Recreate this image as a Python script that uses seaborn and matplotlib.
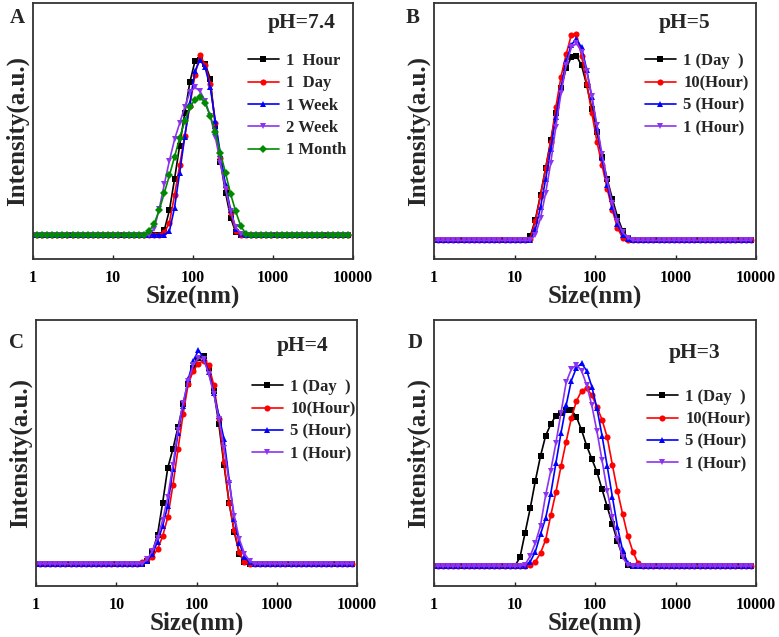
import numpy as np
import pandas as pd
import matplotlib
matplotlib.use('Agg')
import matplotlib.pyplot as plt
import seaborn as sns

sns.set_style('ticks')
plt.rcParams['font.family'] = ['Liberation Serif', 'DejaVu Serif']
plt.rcParams['font.weight'] = 'bold'
plt.rcParams['axes.labelweight'] = 'bold'

# DLS size bins (nm)
sizes = [0.9649, 1.117, 1.294, 1.499, 1.736, 2.010, 2.328, 2.696, 3.122, 3.615,
         4.187, 4.849, 5.615, 6.503, 7.531, 8.721, 10.10, 11.70, 13.54, 15.69,
         18.17, 21.04, 24.36, 28.21, 32.67, 37.84, 43.82, 50.75, 58.77, 68.06,
         78.82, 91.28, 105.7, 122.4, 141.8, 164.2, 190.1, 220.2, 255.0, 295.3,
         342.0, 396.1, 458.7, 531.2, 615.1, 712.4, 825.0, 955.4, 1106, 1281,
         1484, 1718, 1990, 2305, 2669, 3091, 3580, 4145, 4801, 5560,
         6439, 7456, 8635]

# pH = 7.4
a_1hour = [0, 0, 0, 0, 0, 0, 0, 0, 0, 0, 0, 0, 0, 0, 0, 0,
           0, 0, 0, 0, 0, 0, 0, 0, 0, 0, 0.4, 2.0, 4.5, 7.2, 9.8, 12.3,
           14.0, 14.1, 13.8, 12.6, 8.8, 5.9, 3.4, 1.4, 0.2, 0, 0, 0, 0, 0, 0, 0,
           0, 0, 0, 0, 0, 0, 0, 0, 0, 0, 0, 0, 0, 0, 0]
a_1day = [0, 0, 0, 0, 0, 0, 0, 0, 0, 0, 0, 0, 0, 0, 0, 0,
          0, 0, 0, 0, 0, 0, 0, 0, 0, 0, 0.2, 1.0, 3.2, 5.6, 8.0, 10.4,
          12.9, 14.5, 13.7, 12.2, 9.0, 6.2, 3.9, 1.8, 0.3, 0, 0, 0, 0, 0, 0, 0,
          0, 0, 0, 0, 0, 0, 0, 0, 0, 0, 0, 0, 0, 0, 0]
a_1week = [0, 0, 0, 0, 0, 0, 0, 0, 0, 0, 0, 0, 0, 0, 0, 0,
           0, 0, 0, 0, 0, 0, 0, 0, 0, 0, 0, 0.3, 2.2, 5.0, 7.9, 10.6,
           13.2, 14.1, 13.5, 11.9, 9.2, 6.5, 4.0, 2.0, 0.5, 0.1, 0, 0, 0, 0, 0, 0,
           0, 0, 0, 0, 0, 0, 0, 0, 0, 0, 0, 0, 0, 0, 0]
a_2week = [0, 0, 0, 0, 0, 0, 0, 0, 0, 0, 0, 0, 0, 0, 0, 0,
           0, 0, 0, 0, 0, 0, 0, 0, 0.5, 2.1, 4.1, 6.0, 7.7, 9.0, 10.3, 11.5,
           11.9, 11.6, 10.8, 9.6, 7.9, 5.8, 3.7, 1.9, 0.6, 0.1, 0, 0, 0, 0, 0, 0,
           0, 0, 0, 0, 0, 0, 0, 0, 0, 0, 0, 0, 0, 0, 0]
a_1month = [0, 0, 0, 0, 0, 0, 0, 0, 0, 0, 0, 0, 0, 0, 0, 0,
            0, 0, 0, 0, 0, 0, 0, 0.3, 0.9, 2.0, 3.4, 4.8, 6.3, 7.8, 9.2, 10.3,
            10.9, 11.1, 10.6, 9.6, 8.3, 6.6, 5.0, 3.3, 1.9, 0.7, 0.1, 0, 0, 0, 0, 0,
            0, 0, 0, 0, 0, 0, 0, 0, 0, 0, 0, 0, 0, 0, 0]

# pH = 5
b_1day = [0, 0, 0, 0, 0, 0, 0, 0, 0, 0, 0, 0, 0, 0, 0, 0,
          0, 0, 0, 0.3, 1.5, 3.3, 5.2, 7.2, 9.2, 11.0, 12.4, 13.2, 13.3, 12.6, 11.2, 9.5,
          7.8, 6.0, 4.4, 3.0, 1.7, 0.7, 0.2, 0, 0, 0, 0, 0, 0, 0, 0, 0,
          0, 0, 0, 0, 0, 0, 0, 0, 0, 0, 0, 0, 0, 0, 0]
b_10hour = [0, 0, 0, 0, 0, 0, 0, 0, 0, 0, 0, 0, 0, 0, 0, 0,
            0, 0, 0, 0.1, 1.4, 3.2, 5.2, 7.1, 9.6, 11.8, 13.4, 14.8, 14.9, 13.3, 11.3, 9.2,
            7.1, 5.4, 3.7, 2.2, 0.9, 0.2, 0, 0, 0, 0, 0, 0, 0, 0, 0, 0,
            0, 0, 0, 0, 0, 0, 0, 0, 0, 0, 0, 0, 0, 0, 0]
b_5hour = [0, 0, 0, 0, 0, 0, 0, 0, 0, 0, 0, 0, 0, 0, 0, 0,
           0, 0, 0, 0, 0.8, 2.4, 4.4, 6.6, 8.9, 11.0, 12.9, 14.1, 14.5, 13.9, 12.3, 10.3,
           8.1, 5.9, 4.0, 2.4, 1.2, 0.4, 0.1, 0, 0, 0, 0, 0, 0, 0, 0, 0,
           0, 0, 0, 0, 0, 0, 0, 0, 0, 0, 0, 0, 0, 0, 0]
b_1hour = [0, 0, 0, 0, 0, 0, 0, 0, 0, 0, 0, 0, 0, 0, 0, 0,
           0, 0, 0, 0, 0.4, 1.6, 3.4, 5.6, 8.2, 10.6, 12.6, 13.9, 14.2, 13.6, 12.2, 10.4,
           8.3, 6.2, 4.3, 2.7, 1.4, 0.6, 0.2, 0, 0, 0, 0, 0, 0, 0, 0, 0,
           0, 0, 0, 0, 0, 0, 0, 0, 0, 0, 0, 0, 0, 0, 0]

# pH = 4
c_1day = [0, 0, 0, 0, 0, 0, 0, 0, 0, 0, 0, 0, 0, 0, 0, 0,
          0, 0, 0, 0, 0, 0, 0.2, 0.8, 2.0, 4.2, 6.6, 7.9, 9.4, 11.0, 12.4, 13.5,
          14.2, 14.3, 13.5, 11.9, 9.6, 6.8, 4.2, 2.2, 0.7, 0.1, 0, 0, 0, 0, 0, 0,
          0, 0, 0, 0, 0, 0, 0, 0, 0, 0, 0, 0, 0, 0, 0]
c_10hour = [0, 0, 0, 0, 0, 0, 0, 0, 0, 0, 0, 0, 0, 0, 0, 0,
            0, 0, 0, 0, 0, 0.1, 0.3, 0.5, 1.0, 1.9, 3.2, 5.4, 7.9, 10.3, 12.4, 13.3,
            13.8, 14.0, 13.7, 12.3, 10.0, 7.0, 4.2, 2.3, 0.8, 0.1, 0, 0, 0, 0, 0, 0,
            0, 0, 0, 0, 0, 0, 0, 0, 0, 0, 0, 0, 0, 0, 0]
c_5hour = [0, 0, 0, 0, 0, 0, 0, 0, 0, 0, 0, 0, 0, 0, 0, 0,
           0, 0, 0, 0, 0, 0, 0.2, 0.7, 1.5, 2.6, 4.0, 6.5, 9.0, 10.9, 12.7, 14.0,
           14.7, 14.2, 13.2, 11.8, 10.2, 8.6, 5.8, 3.1, 1.4, 0.5, 0.1, 0, 0, 0, 0, 0,
           0, 0, 0, 0, 0, 0, 0, 0, 0, 0, 0, 0, 0, 0, 0]
c_1hour = [0, 0, 0, 0, 0, 0, 0, 0, 0, 0, 0, 0, 0, 0, 0, 0,
           0, 0, 0, 0, 0, 0, 0.3, 0.9, 1.8, 3.0, 4.6, 6.8, 9.2, 11.1, 12.6, 13.7,
           14.2, 14.1, 13.1, 11.7, 10.0, 8.0, 5.6, 3.3, 1.7, 0.7, 0.2, 0, 0, 0, 0, 0,
           0, 0, 0, 0, 0, 0, 0, 0, 0, 0, 0, 0, 0, 0, 0]

# pH = 3
d_1day = [0, 0, 0, 0, 0, 0, 0, 0, 0, 0, 0, 0, 0, 0, 0, 0,
          0, 0.6, 2.3, 4.0, 5.9, 7.6, 9.0, 9.8, 10.4, 10.6, 10.8, 10.8, 10.3, 9.4, 8.3, 7.4,
          6.5, 5.3, 4.1, 2.9, 1.7, 0.7, 0.1, 0, 0, 0, 0, 0, 0, 0, 0, 0,
          0, 0, 0, 0, 0, 0, 0, 0, 0, 0, 0, 0, 0, 0, 0]
d_10hour = [0, 0, 0, 0, 0, 0, 0, 0, 0, 0, 0, 0, 0, 0, 0, 0,
            0, 0, 0, 0.1, 0.3, 0.9, 1.8, 3.5, 5.1, 6.9, 8.6, 10.2, 11.4, 12.1, 12.3, 11.8,
            11.0, 10.1, 8.9, 7.0, 5.2, 3.6, 2.1, 1.0, 0.2, 0, 0, 0, 0, 0, 0, 0,
            0, 0, 0, 0, 0, 0, 0, 0, 0, 0, 0, 0, 0, 0, 0]
d_5hour = [0, 0, 0, 0, 0, 0, 0, 0, 0, 0, 0, 0, 0, 0, 0, 0,
           0, 0, 0, 0.3, 1.0, 2.2, 3.3, 5.0, 7.1, 9.2, 11.1, 12.8, 13.7, 14.0, 13.5, 12.4,
           10.9, 9.0, 6.9, 4.8, 2.7, 1.1, 0.2, 0, 0, 0, 0, 0, 0, 0, 0, 0,
           0, 0, 0, 0, 0, 0, 0, 0, 0, 0, 0, 0, 0, 0, 0]
d_1hour = [0, 0, 0, 0, 0, 0, 0, 0, 0, 0, 0, 0, 0, 0, 0, 0,
           0, 0, 0.1, 0.7, 1.6, 2.8, 4.9, 6.6, 8.5, 10.6, 12.7, 13.6, 13.9, 13.5, 12.5, 11.1,
           9.3, 7.3, 5.2, 3.4, 1.9, 0.6, 0.1, 0, 0, 0, 0, 0, 0, 0, 0, 0,
           0, 0, 0, 0, 0, 0, 0, 0, 0, 0, 0, 0, 0, 0, 0]

labels_a = ['1  Hour', '1  Day', '1 Week', '2 Week', '1 Month']
labels_bcd = ['1 (Day  )', '10(Hour)', '5 (Hour)', '1 (Hour)']

colors = ['black', '#FF0000', '#0000FF', '#8C33F0', '#008A00']
markers = ['s', 'o', '^', 'v', 'D']

W, H = 779, 637
fig = plt.figure(figsize=(W / 100, H / 100), dpi=100)

# (series, labels, axes box px [left, top, right, bottom], ylim, letter, letter pos, pH text, pH pos, legend pos)
panels = [
    ([a_1hour, a_1day, a_1week, a_2week, a_1month], labels_a, (33, 3, 353, 259), (-1.94, 18.7),
     'A', (17, 18), 'pH=7.4', (302, 23), (248, 53)),
    ([b_1day, b_10hour, b_5hour, b_1hour], labels_bcd, (434, 3, 756, 259), (-1.34, 17.1),
     'B', (413, 18), 'pH=5', (685, 23), (645, 53)),
    ([c_1day, c_10hour, c_5hour, c_1hour], labels_bcd, (36, 320, 357, 586), (-1.53, 16.8),
     'C', (17, 343), 'pH=4', (303, 346), (252, 379)),
    ([d_1day, d_10hour, d_5hour, d_1hour], labels_bcd, (434, 320, 756, 586), (-1.38, 17.0),
     'D', (415, 343), 'pH=3', (695, 353), (647, 389)),
]

for series, labels, box, ylim, letter, lpos, ph, phpos, legpos in panels:
    l, t, r, b = box
    ax = fig.add_axes([l / W, 1 - b / H, (r - l) / W, (b - t) / H])
    for i, (vals, lab) in enumerate(zip(series, labels)):
        df = pd.DataFrame({'size': sizes, 'intensity': vals})
        sns.lineplot(data=df, x='size', y='intensity', ax=ax, color=colors[i],
                     marker=markers[i], markersize=4.4, markeredgewidth=0,
                     linewidth=1.2, label=lab)
    ax.set_xscale('log')
    ax.set_xlim(1, 10000)
    ax.set_ylim(*ylim)
    ax.set_xticks([1, 10, 100, 1000, 10000])
    ax.set_xticklabels(['1', '10', '100', '1000', '10000'])
    ax.xaxis.set_minor_locator(matplotlib.ticker.NullLocator())
    ax.set_yticks([])
    ax.tick_params(axis='x', direction='in', length=3, width=1, pad=8,
                   labelsize=11.5, colors='#222222')
    for lab in ax.get_xticklabels():
        lab.set_fontweight('bold')
        lab.set_color('black')
    for sp in ax.spines.values():
        sp.set_linewidth(1.3)
        sp.set_color('#333333')
    ax.set_xlabel('Size(nm)', fontsize=18, fontweight='bold', labelpad=-1)
    ax.set_ylabel('Intensity(a.u.)', fontsize=18, fontweight='bold', labelpad=3)
    ax.legend(loc='upper left', bbox_to_anchor=(legpos[0] / W, 1 - legpos[1] / H),
              bbox_transform=fig.transFigure, frameon=False, borderpad=0,
              borderaxespad=0, handlelength=1.85, handletextpad=0.45,
              labelspacing=0.38, prop={'size': 12, 'weight': 'bold'})
    fig.text(lpos[0] / W, 1 - lpos[1] / H, letter, fontsize=15, fontweight='bold',
             ha='center', va='center')
    fig.text(phpos[0] / W, 1 - phpos[1] / H, ph, fontsize=15.5, fontweight='bold',
             ha='center', va='center')

fig.savefig('out.png', dpi=100)
